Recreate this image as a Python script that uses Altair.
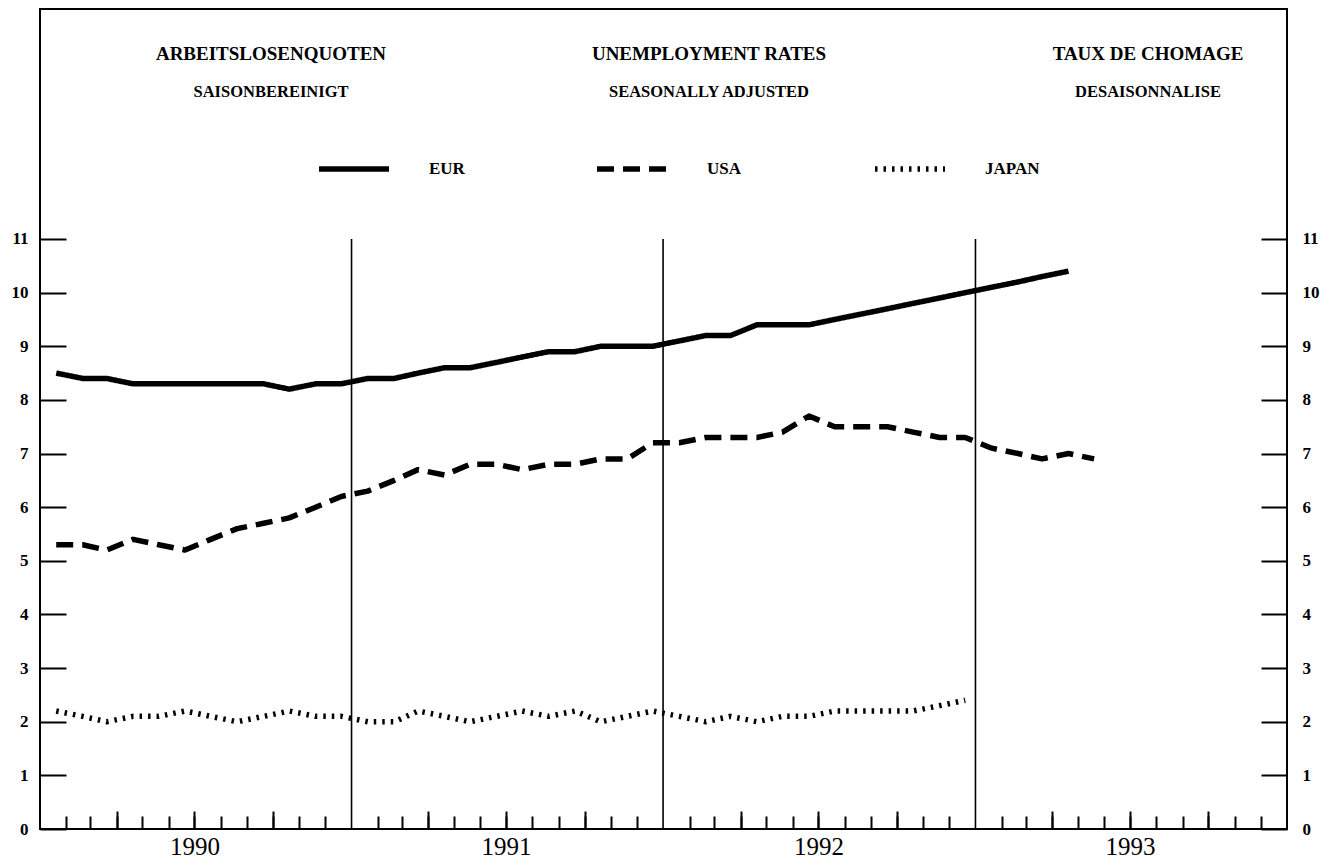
import altair as alt
import pandas as pd

# ---------------- data (monthly, seasonally adjusted, %) ----------------
series_names = ["EUR", "USA", "JAPAN"]

eur = [8.5, 8.4, 8.4, 8.3, 8.3, 8.3, 8.3, 8.3, 8.3, 8.2, 8.3, 8.3,
       8.4, 8.4, 8.5, 8.6, 8.6, 8.7, 8.8, 8.9, 8.9, 9.0, 9.0, 9.0,
       9.1, 9.2, 9.2, 9.4, 9.4, 9.4, 9.5, 9.6, 9.7, 9.8, 9.9, 10.0,
       10.1, 10.2, 10.3, 10.4]
usa = [5.3, 5.3, 5.2, 5.4, 5.3, 5.2, 5.4, 5.6, 5.7, 5.8, 6.0, 6.2,
       6.3, 6.5, 6.7, 6.6, 6.8, 6.8, 6.7, 6.8, 6.8, 6.9, 6.9, 7.2,
       7.2, 7.3, 7.3, 7.3, 7.4, 7.7, 7.5, 7.5, 7.5, 7.4, 7.3, 7.3,
       7.1, 7.0, 6.9, 7.0, 6.9]
japan = [2.2, 2.1, 2.0, 2.1, 2.1, 2.2, 2.1, 2.0, 2.1, 2.2, 2.1, 2.1,
         2.0, 2.0, 2.2, 2.1, 2.0, 2.1, 2.2, 2.1, 2.2, 2.0, 2.1, 2.2,
         2.1, 2.0, 2.1, 2.0, 2.1, 2.1, 2.2, 2.2, 2.2, 2.2, 2.3, 2.4]

years = [1990, 1991, 1992, 1993]
year_boundaries = [1991, 1992, 1993]
y_ticks = list(range(0, 12))
title_lines = [("ARBEITSLOSENQUOTEN", "SAISONBEREINIGT"),
               ("UNEMPLOYMENT RATES", "SEASONALLY ADJUSTED"),
               ("TAUX DE CHOMAGE", "DESAISONNALISE")]


def month_dates(n, start_year=1990, day=20):
    return [f"{start_year + i // 12}-{i % 12 + 1:02d}-{day:02d}T00:00:00" for i in range(n)]


rows = []
for name, vals in zip(series_names, [eur, usa, japan]):
    for d, v in zip(month_dates(len(vals)), vals):
        rows.append({"date": d, "value": v, "series": name})
df = pd.DataFrame(rows)

bounds_df = pd.DataFrame({"date": [f"{y}-01-01T00:00:00" for y in year_boundaries]})

# ---------------- layout ----------------
W, H = 1247, 820
SERIF = "Liberation Serif"

x_scale = alt.Scale(domain=[alt.DateTime(year=1990, month=1, date=1),
                            alt.DateTime(year=1994, month=1, date=1)], nice=False)
y_scale = alt.Scale(domain=[0, 15.288], nice=False, zero=False)

month_vals = [alt.DateTime(year=y, month=m, date=1) for y in years for m in range(2, 13)]
quarter_vals = [alt.DateTime(year=y, month=m, date=1) for y in years for m in (4, 7, 10)]

month_axis = alt.Axis(orient="bottom", values=month_vals, offset=-13, tickSize=13,
                      tickWidth=2, tickColor="black", labels=False, domain=False,
                      grid=False, title=None)
quarter_axis = alt.Axis(orient="bottom", values=quarter_vals, offset=-18, tickSize=18,
                        tickWidth=2, tickColor="black", domain=False, grid=False,
                        title=None, labelExpr="month(datum.value) == 6 ? timeFormat(datum.value, '%Y') : ''",
                        labelFont=SERIF, labelFontSize=25, labelColor="black",
                        labelPadding=5, labelFlush=False, labelOverlap=False)
left_axis = alt.Axis(orient="left", values=y_ticks, offset=-26, tickSize=26, tickWidth=2,
                     tickColor="black", labelPadding=12, labelFont=SERIF,
                     labelFontWeight="bold", labelFontSize=17, labelColor="black",
                     domain=False, grid=False, title=None, labelOverlap=False, labelFlush=False)
right_axis = alt.Axis(orient="right", values=y_ticks, offset=-26, tickSize=26, tickWidth=2,
                      tickColor="black", labelPadding=15, labelFont=SERIF,
                      labelFontWeight="bold", labelFontSize=17, labelColor="black",
                      domain=False, grid=False, title=None, labelOverlap=False, labelFlush=False)

legend = alt.Legend(orient="none", legendX=276, legendY=122, direction="horizontal",
                    columns=3, gridAlign="all", symbolType="stroke", symbolSize=4900,
                    symbolStrokeColor="black", labelFont=SERIF, labelFontWeight="bold",
                    labelFontSize=17, labelColor="black", labelOffset=37,
                    columnPadding=102, title=None, padding=0)

lines = alt.Chart(df).mark_line(color="black", strokeCap="butt", strokeJoin="round").encode(
    x=alt.X("date:T", scale=x_scale, axis=month_axis),
    y=alt.Y("value:Q", scale=y_scale, axis=left_axis),
    strokeDash=alt.StrokeDash("series:N", scale=alt.Scale(domain=series_names,
                              range=[[1, 0], [17, 9], [2.5, 6]]), legend=legend),
    strokeWidth=alt.StrokeWidth("series:N", scale=alt.Scale(domain=series_names,
                                range=[5.5, 5.5, 3.5]), legend=legend),
)

rules = alt.Chart(bounds_df).mark_rule(color="black", strokeWidth=1.6).encode(
    x=alt.X("date:T", scale=x_scale, axis=quarter_axis),
    y=alt.YDatum(datum=0, type="quantitative", scale=y_scale, axis=right_axis),
    y2=alt.Y2Datum(datum=11),
)

title_x = [231, 669, 1108]
texts = []
for (big, small), tx in zip(title_lines, title_x):
    texts.append(alt.Chart(alt.Data(values=[{}])).mark_text(
        text=big, font=SERIF, fontWeight="bold", fontSize=19, color="black",
        align="center", baseline="middle").encode(x=alt.value(tx), y=alt.value(45)))
    texts.append(alt.Chart(alt.Data(values=[{}])).mark_text(
        text=small, font=SERIF, fontWeight="bold", fontSize=16.5, color="black",
        align="center", baseline="middle").encode(x=alt.value(tx), y=alt.value(83)))

chart = alt.layer(rules, lines, *texts).resolve_axis(
    x="independent", y="independent"
).properties(
    width=W, height=H,
    autosize=alt.AutoSizeParams(type="none"),
    padding={"left": 32, "top": 1, "right": 35, "bottom": 31},
    background="white",
).configure_view(stroke="black", strokeWidth=2)

chart.save("out.html", embed_options={"renderer": "svg", "actions": False})
